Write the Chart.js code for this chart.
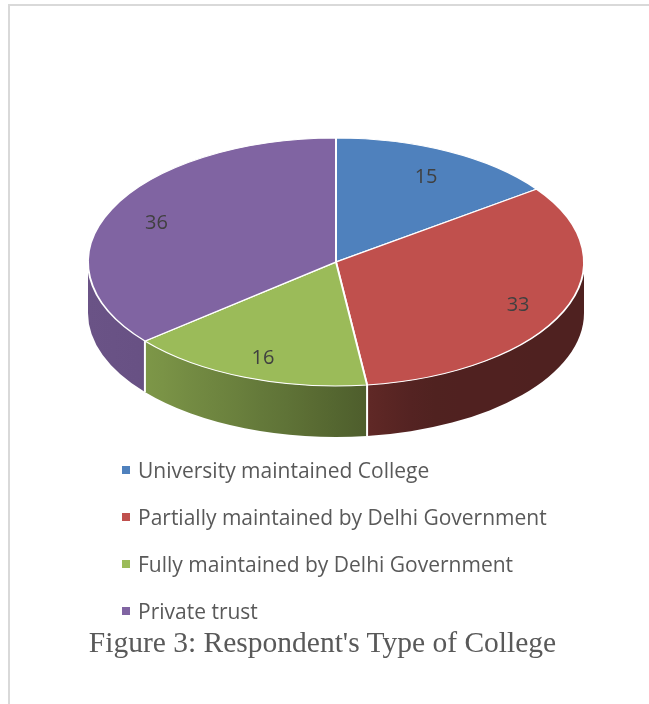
<!DOCTYPE html>
<html>
<head>
<meta charset="utf-8">
<script src="https://cdn.jsdelivr.net/npm/chart.js@4.4.1/dist/chart.umd.min.js"></script>
<style>
body{margin:0;background:#fff;width:649px;height:704px;overflow:hidden;position:relative;}
#frame{position:absolute;left:8px;top:4px;width:700px;height:800px;border-left:2px solid #d9d9d9;border-top:2px solid #d9d9d9;}
#chart{position:absolute;left:0;top:0;}
#legend{position:absolute;left:122px;top:447px;font-family:"Open Sans",sans-serif;font-size:21px;color:#595959;}
#legend div{height:47px;line-height:47px;white-space:nowrap;}
#legend span.box{display:inline-block;width:8px;height:8px;margin-right:8px;vertical-align:middle;position:relative;top:-2px;}
#caption{position:absolute;left:0;width:645px;top:626px;line-height:32px;text-align:center;font-family:"Liberation Serif","Times New Roman",serif;font-size:29.5px;color:#595959;}
</style>
</head>
<body>
<div id="frame"></div>
<canvas id="chart" width="649" height="704"></canvas>
<div id="legend"></div>
<div id="caption">Figure 3: Respondent's Type of College</div>
<script>
const labels = ["University maintained College","Partially maintained by Delhi Government","Fully maintained by Delhi Government","Private trust"];
const values = [15,33,16,36];
const colors = ["#4F81BD","#C0504D","#9BBB59","#8064A2"];

const TILT = 0.5;     // vertical squash of the pie
const DEPTH = 51;     // thickness of the side wall
// side shading across the pie width (x from left -1 to right +1)
const shadeX = [-1,-0.77,0.125,0.35,1];
const shadeF = [0.83,0.81,0.5,0.42,0.41];

function shadeAt(nx){
  for(let i=1;i<shadeX.length;i++){
    if(nx<=shadeX[i]){
      let t=(nx-shadeX[i-1])/(shadeX[i]-shadeX[i-1]);
      return shadeF[i-1]+t*(shadeF[i]-shadeF[i-1]);
    }
  }
  return shadeF[shadeF.length-1];
}

function darken(hex,f){
  let r=parseInt(hex.substr(1,2),16),g=parseInt(hex.substr(3,2),16),b=parseInt(hex.substr(5,2),16);
  return `rgb(${Math.round(r*f)},${Math.round(g*f)},${Math.round(b*f)})`;
}

function drawSides(chart){
  const ctx=chart.ctx;
  const arcs=chart.getDatasetMeta(0).data;
  arcs.forEach((arc,i)=>{
    const cx=arc.x,cy=arc.y,rx=arc.outerRadius,ry=rx*TILT;
    let a0=Math.max(arc.startAngle,0), a1=Math.min(arc.endAngle,Math.PI);
    if(a0>=a1) return;
    let grad=ctx.createLinearGradient(cx-rx,0,cx+rx,0);
    for(let s=0;s<=20;s++){
      grad.addColorStop(s/20,darken(colors[i],shadeAt(-1+s/10)));
    }
    ctx.beginPath();
    ctx.ellipse(cx,cy,rx,ry,0,a0,a1,false);
    ctx.lineTo(cx+rx*Math.cos(a1),cy+ry*Math.sin(a1)+DEPTH);
    ctx.ellipse(cx,cy+DEPTH,rx,ry,0,a1,a0,true);
    ctx.closePath();
    ctx.fillStyle=grad;
    ctx.fill();
  });
  // white edges between side segments
  ctx.strokeStyle="#fff";
  ctx.lineWidth=2;
  arcs.forEach(arc=>{
    const a=arc.startAngle;
    if(a>0 && a<Math.PI){
      const x=arc.x+arc.outerRadius*Math.cos(a), y=arc.y+arc.outerRadius*TILT*Math.sin(a);
      ctx.beginPath();ctx.moveTo(x,y);ctx.lineTo(x,y+DEPTH);ctx.stroke();
    }
  });
}

function drawLabels(chart){
  const ctx=chart.ctx;
  const arcs=chart.getDatasetMeta(0).data;
  ctx.save();
  ctx.font='20px "Open Sans", sans-serif';
  ctx.fillStyle="#404040";
  ctx.textAlign="center";
  ctx.textBaseline="middle";
  arcs.forEach((arc,i)=>{
    const mid=(arc.startAngle+arc.endAngle)/2;
    const r=arc.outerRadius*0.8;
    ctx.fillText(values[i],arc.x+r*Math.cos(mid),arc.y+r*TILT*Math.sin(mid)+4);
  });
  ctx.restore();
}

const pie3d={
  id:'pie3d',
  beforeDatasetsDraw(chart){
    const ctx=chart.ctx;
    const arc=chart.getDatasetMeta(0).data[0];
    drawSides(chart);
    ctx.save();
    ctx.translate(0,arc.y);
    ctx.scale(1,TILT);
    ctx.translate(0,-arc.y);
  },
  afterDatasetsDraw(chart){
    chart.ctx.restore();
    drawLabels(chart);
  }
};

new Chart(document.getElementById("chart"),{
  type:'pie',
  data:{
    labels:labels,
    datasets:[{
      data:values,
      backgroundColor:colors,
      borderColor:'#fff',
      borderWidth:2,
      clip:false
    }]
  },
  options:{
    responsive:false,
    animation:false,
    layout:{padding:{left:87,right:64,top:13,bottom:193}},
    plugins:{legend:{display:false},tooltip:{enabled:false}}
  },
  plugins:[pie3d]
});

// legend
const lg=document.getElementById("legend");
labels.forEach((l,i)=>{
  let row=document.createElement("div");
  row.innerHTML=`<span class="box" style="background:${colors[i]}"></span>${l}`;
  lg.appendChild(row);
});
</script>
</body>
</html>
